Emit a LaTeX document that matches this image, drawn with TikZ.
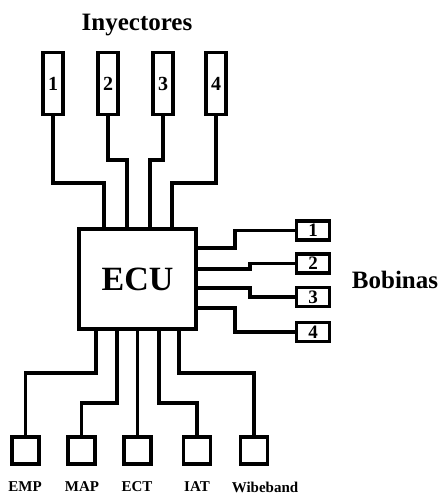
\documentclass[tikz,border=0pt]{standalone}
\usepackage{fontspec}
\setmainfont{Liberation Serif}
\begin{document}
\begin{tikzpicture}[x=1pt,y=-1pt,
  wire/.style={line width=3.2pt},
  box/.style={draw,line width=3.2pt,inner sep=0pt,fill=white},
  inj/.style={box,minimum width=20pt,minimum height=62pt,font=\bfseries\fontsize{20}{24}\selectfont},
  bob/.style={box,minimum width=33pt,minimum height=19pt,font=\bfseries\fontsize{19}{22}\selectfont},
  sen/.style={box,minimum width=27pt,minimum height=27pt},
  lbl/.style={font=\bfseries\fontsize{15}{18}\selectfont,inner sep=0pt},
  ttl/.style={font=\bfseries\fontsize{25}{30}\selectfont,inner sep=0pt}]
\path[use as bounding box,fill=white] (0,0) rectangle (442,495);
% ECU
\node[box,minimum width=117pt,minimum height=100pt,font=\bfseries\fontsize{34}{40}\selectfont] (ecu) at (137.5,279) {ECU};
% injectors
\node[ttl] (tinj) at (137,25) {Inyectores};
\node[inj] (i1) at (53,83.5) {1};
\node[inj] (i2) at (108,83.5) {2};
\node[inj] (i3) at (163,83.5) {3};
\node[inj] (i4) at (216,83.5) {4};
\coordinate (e1) at (104,229);
\coordinate (e2) at (127,229);
\coordinate (e3) at (150,229);
\coordinate (e4) at (172,229);
\draw[wire] (i1.south) |- (104,183) -- (e1);
\draw[wire] (i2.south) |- (127,160) -- (e2);
\draw[wire] (i3.south) |- (150,160) -- (e3);
\draw[wire] (i4.south) |- (172,183) -- (e4);
% coils
\node[ttl] (tbob) at (395,280) {Bobinas};
\node[bob] (b1) at (313,230.5) {1};
\node[bob] (b2) at (313,263.5) {2};
\node[bob] (b3) at (313,297) {3};
\node[bob] (b4) at (313,332) {4};
\coordinate (r1) at (196,248);
\coordinate (r2) at (196,269);
\coordinate (r3) at (196,288);
\coordinate (r4) at (196,308);
\draw[wire] (r1) -- (235,248) |- (b1.west);
\draw[wire] (r2) -- (250,269) |- (b2.west);
\draw[wire] (r3) -- (250,288) |- (b3.west);
\draw[wire] (r4) -- (235,308) |- (b4.west);
% sensors
\node[sen] (s1) at (25.5,450.5) {};
\node[sen] (s2) at (81.5,450.5) {};
\node[sen] (s3) at (137.5,450.5) {};
\node[sen] (s4) at (197,450.5) {};
\node[sen] (s5) at (254,450.5) {};
\coordinate (q1) at (96,329);
\coordinate (q2) at (117,329);
\coordinate (q3) at (137.5,329);
\coordinate (q4) at (159,329);
\coordinate (q5) at (179,329);
\draw[wire] (q1) |- (25.5,373) -- (s1.north);
\draw[wire] (q2) |- (81.5,403) -- (s2.north);
\draw[wire] (q3) -- (s3.north);
\draw[wire] (q4) |- (197,403) -- (s4.north);
\draw[wire] (q5) |- (254,373) -- (s5.north);
\node[lbl] (l1) at (25,487) {EMP};
\node[lbl] (l2) at (82,487) {MAP};
\node[lbl] (l3) at (137,487) {ECT};
\node[lbl] (l4) at (197,487) {IAT};
\node[lbl] (l5) at (265,487) {Wibeband};
\end{tikzpicture}
\end{document}
